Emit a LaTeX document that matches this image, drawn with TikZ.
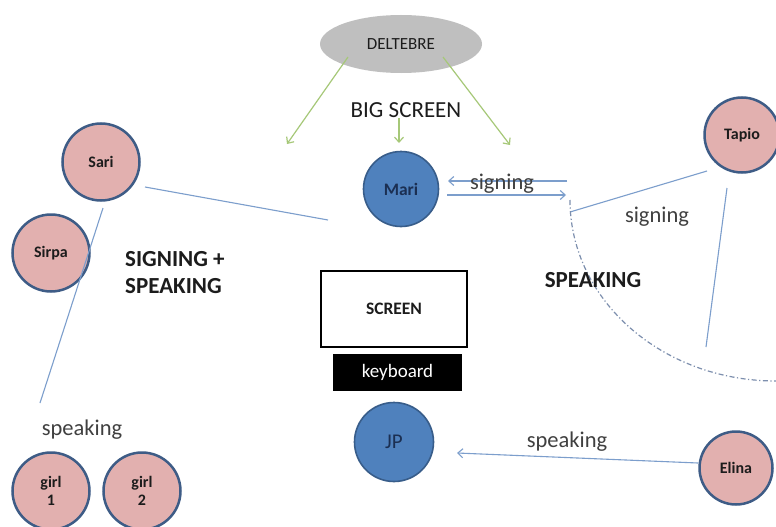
\documentclass[tikz,border=0pt]{standalone}
\usepackage{fontspec}
\setmainfont{Carlito}
\usetikzlibrary{arrows.meta,shapes.geometric}

\definecolor{pinkfill}{HTML}{E2B0AF}
\definecolor{ringblue}{HTML}{3E5C86}
\definecolor{bluefill}{HTML}{4F81BD}
\definecolor{blueedge}{HTML}{385D8A}
\definecolor{linkblue}{HTML}{7C9ECC}
\definecolor{leafgreen}{HTML}{A6C878}
\definecolor{cloudgray}{HTML}{BFBFBF}
\definecolor{inktext}{HTML}{404040}
\definecolor{darktext}{HTML}{1C1C1C}
\definecolor{navytext}{HTML}{1B2F52}
\definecolor{arcgray}{HTML}{7D8FAE}

\tikzset{
  person/.style={circle, fill=pinkfill, draw=ringblue, line width=2.5pt,
    minimum size=#1, inner sep=0pt, align=center, text=darktext,
    font=\bfseries\fontsize{16}{18}\selectfont},
  person/.default=77pt,
  seat/.style={circle, fill=bluefill, draw=blueedge, line width=1.6pt,
    minimum size=#1, inner sep=0pt, text=navytext,
    font=\bfseries\fontsize{17.5}{19}\selectfont},
  seat/.default=75pt,
  lbl/.style={text=inktext, font=\fontsize{22.5}{26}\selectfont, inner sep=0pt},
  boldlbl/.style={text=darktext, font=\bfseries\fontsize{23}{27}\selectfont, inner sep=0pt},
  link/.style={draw=linkblue, line width=1.1pt},
  linkarrow/.style={link, -{Straight Barb[length=5pt,width=9pt,line width=1.1pt]}},
  greenarrow/.style={draw=leafgreen, line width=1.2pt,
    -{Straight Barb[length=5pt,width=9pt,line width=1.2pt]}},
}

\begin{document}
\begin{tikzpicture}[x=1pt,y=-1pt]
  \useasboundingbox (0,0) rectangle (776,527);
  \fill[white] (0,0) rectangle (776,527);

  % projector source and the big screen
  \node[ellipse, fill=cloudgray, minimum width=162pt, minimum height=58pt,
        inner sep=0pt, text=darktext, font=\fontsize{17}{19}\selectfont]
        (delt) at (401,44) {DELTEBRE};
  \node[lbl, text=darktext, font=\fontsize{23}{26}\selectfont] (big) at (406,110) {BIG SCREEN};

  \coordinate (gl0) at (348,57);
  \coordinate (gl1) at (287,144);
  \coordinate (gr0) at (443,57);
  \coordinate (gr1) at (510,145);
  \coordinate (gm0) at (399,118);
  \coordinate (gm1) at (399,143);
  \draw[greenarrow] (gl0) -- (gl1);
  \draw[greenarrow] (gr0) -- (gr1);
  \draw[greenarrow] (gm0) -- (gm1);

  % participants
  \node[seat] (mari) at (401,189) {Mari};
  \node[seat=79pt, font=\fontsize{21}{23}\selectfont] (jp) at (394,442) {JP};
  \node[person] (sari) at (101,162) {Sari};
  \node[person] (sirpa) at (51,253) {Sirpa};
  \node[person] (girlA) at (51,491) {girl\\1};
  \node[person] (girlB) at (142,491) {girl\\2};
  \node[person=75pt] (tapio) at (742,135) {Tapio};
  \node[person=73pt] (elina) at (736,468) {Elina};

  % desk
  \node[draw=black, line width=2.6pt, minimum width=146pt, minimum height=76pt,
        inner sep=0pt, text=darktext, font=\bfseries\fontsize{17.5}{19}\selectfont]
        (screen) at (394,309) {SCREEN};
  \node[fill=black, minimum width=129pt, minimum height=37pt, inner sep=0pt,
        text=white, font=\fontsize{19}{21}\selectfont]
        (kbd) at (397.5,372.5) {keyboard};

  % lines of communication
  \coordinate (s1) at (145,187);
  \coordinate (s2) at (328,220);
  \draw[link] (s1) -- (s2);
  \coordinate (d1) at (103,208);
  \coordinate (d2) at (40,403);
  \draw[link] (d1) -- (d2);

  \coordinate (m1) at (448,181);
  \coordinate (m2) at (567,181);
  \coordinate (m3) at (447,195);
  \coordinate (m4) at (566,195);
  \draw[linkarrow] (m2) -- (m1);
  \draw[linkarrow] (m3) -- (m4);
  \node[lbl] (sig1) at (502,184) {signing};

  \coordinate (t1) at (707,171);
  \coordinate (t2) at (570,212);
  \draw[link] (t1) -- (t2);
  \coordinate (t3) at (727,188);
  \coordinate (t4) at (706,347);
  \draw[link] (t3) -- (t4);
  \node[lbl] (sig2) at (657,217) {signing};

  \coordinate (e1) at (698,463);
  \coordinate (e2) at (457,453);
  \draw[linkarrow] (e1) -- (e2);
  \node[lbl] (spk2) at (567,442) {speaking};
  \node[lbl] (spk1) at (82,430) {speaking};

  % boundary of the speaking zone
  \coordinate (a0) at (570,200);
  \coordinate (a1) at (776,381);
  \draw[arcgray, line width=1.2pt, dash pattern=on 5pt off 2.5pt on 1.2pt off 2.5pt]
    (a0) .. controls (570,300) and (662,381) .. (a1);

  % zone captions
  \node[boldlbl, align=left, anchor=west] (mix) at (125,273) {SIGNING +\\SPEAKING};
  \node[boldlbl] (spz) at (593,280) {SPEAKING};
\end{tikzpicture}
\end{document}
